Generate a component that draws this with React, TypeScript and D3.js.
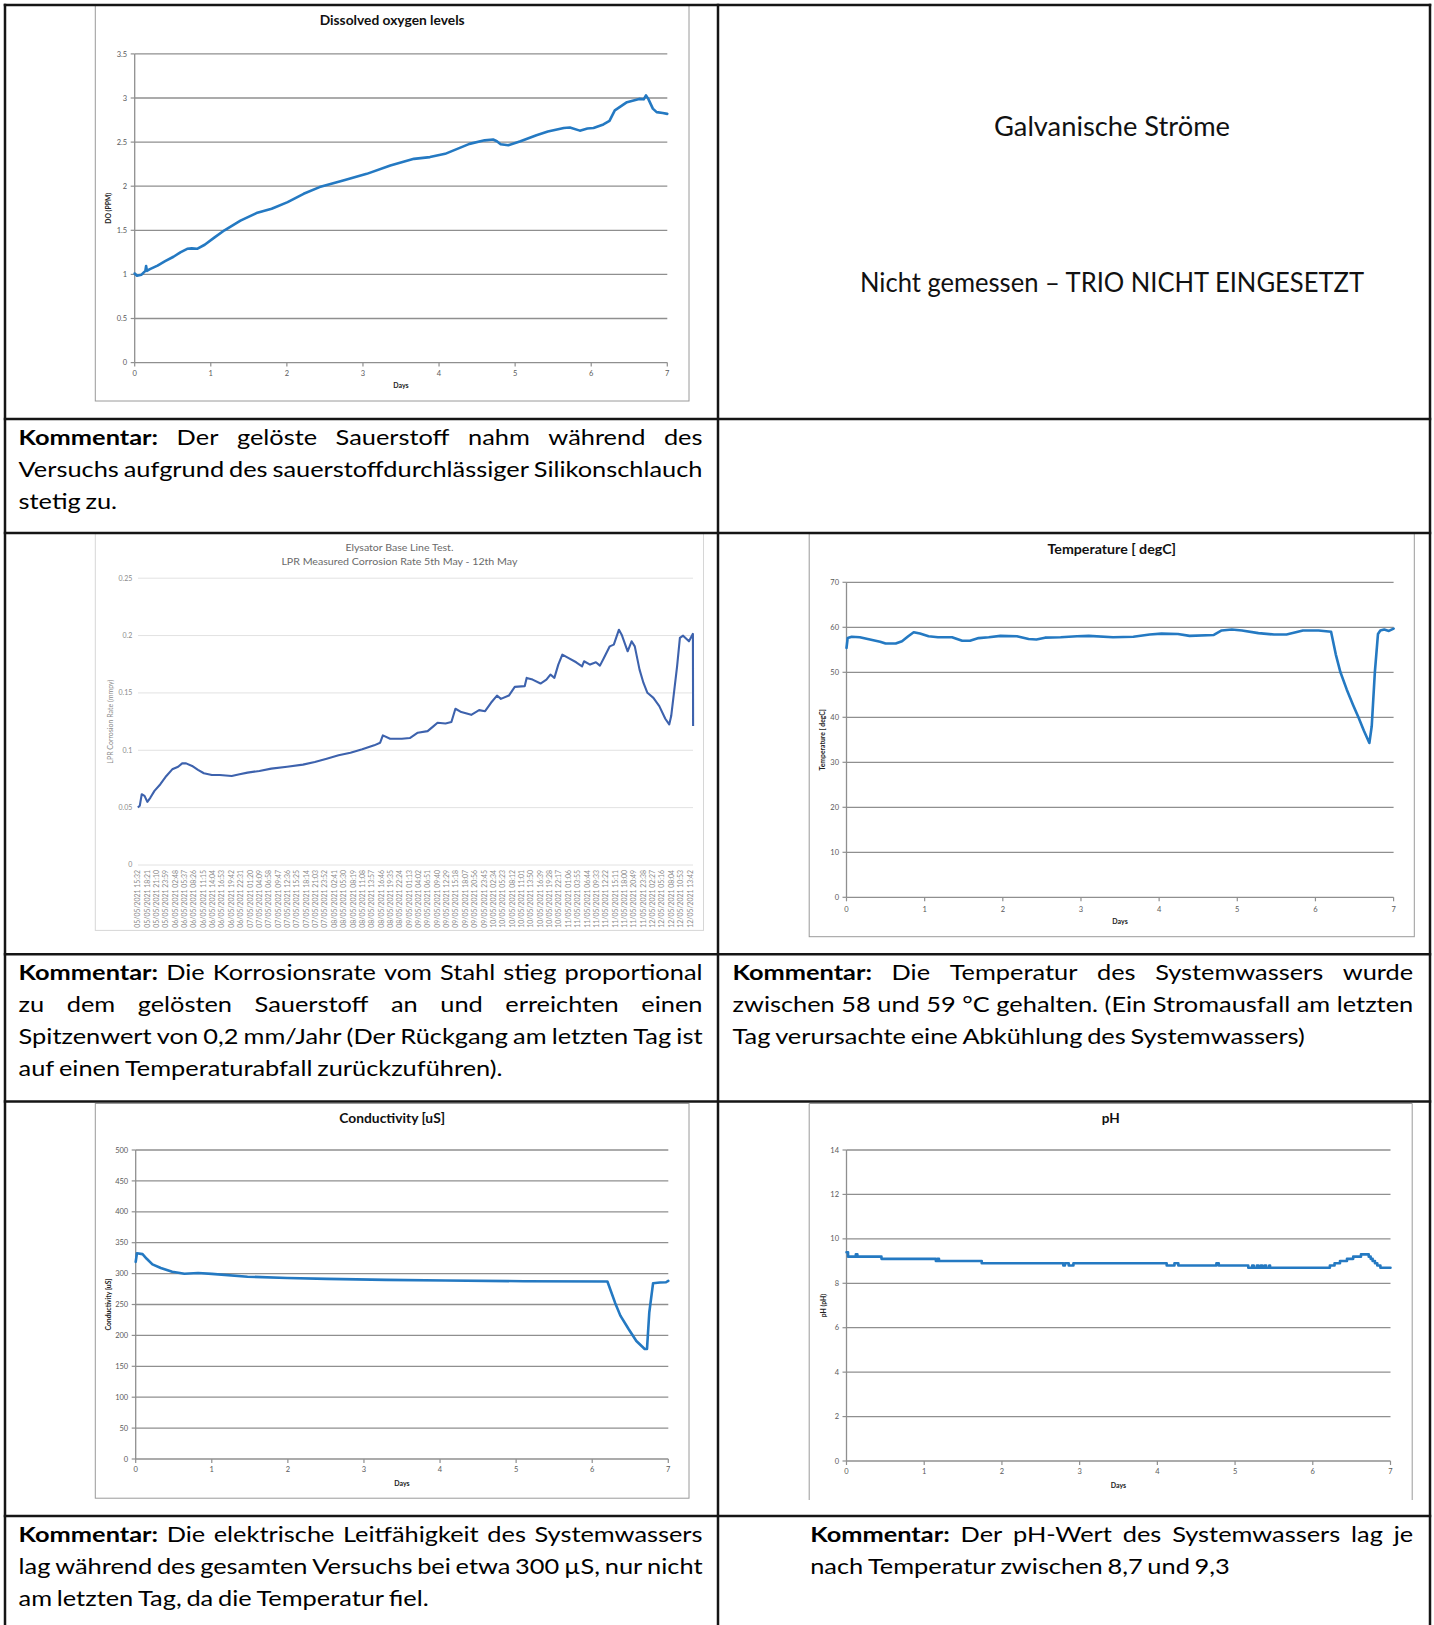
import React, { useEffect, useRef } from 'react';
import * as d3 from 'd3';

const PAGE_W = 1434;
const PAGE_H = 1625;
const FONT = 'Lato, "Open Sans", "DejaVu Sans", sans-serif';
const GRID = '#8f8f8f';
const FRAME = '#9a9a9a';
const TICK_TEXT = '#5a5a5a';
const SERIES_BLUE = '#2479c2';
const LPR_BLUE = '#3d62ad';

// ---------- shared axis ----------
const DAY_TICKS = [0, 1, 2, 3, 4, 5, 6, 7];

// ---------- dissolved oxygen (ppm) over days ----------
const DO_TICKS = [0, 0.5, 1, 1.5, 2, 2.5, 3, 3.5];
const DO_SERIES: [number, number][] = [
  [0, 1.01], [0.03, 0.985], [0.09, 0.997], [0.14, 1.04], [0.15, 1.095], [0.16, 1.04], [0.2, 1.06],
  [0.3, 1.1], [0.4, 1.15], [0.51, 1.2], [0.6, 1.25], [0.69, 1.29], [0.75, 1.295], [0.82, 1.29],
  [0.92, 1.336], [1.05, 1.42], [1.18, 1.5], [1.39, 1.61], [1.6, 1.695], [1.8, 1.744], [2.01, 1.82],
  [2.22, 1.914], [2.43, 1.99], [2.74, 2.065], [3.05, 2.14], [3.36, 2.235], [3.67, 2.31], [3.88, 2.33],
  [4.08, 2.367], [4.4, 2.48], [4.6, 2.52], [4.71, 2.53], [4.76, 2.51], [4.81, 2.476], [4.91, 2.465],
  [5.07, 2.51], [5.28, 2.578], [5.43, 2.62], [5.64, 2.66], [5.72, 2.665], [5.85, 2.63], [5.95, 2.655],
  [6.03, 2.66], [6.16, 2.7], [6.24, 2.74], [6.31, 2.86], [6.47, 2.953], [6.63, 2.99], [6.69, 2.985],
  [6.72, 3.03], [6.75, 2.99], [6.81, 2.88], [6.86, 2.84], [6.94, 2.83], [7.0, 2.82],
];

// ---------- temperature (degC) over days ----------
const TEMP_TICKS = [0, 10, 20, 30, 40, 50, 60, 70];
const TEMP_SERIES: [number, number][] = [
  [0, 55.4], [0.015, 57.6], [0.067, 57.9], [0.17, 57.8], [0.3, 57.3], [0.43, 56.8], [0.5, 56.4],
  [0.63, 56.4], [0.71, 56.9], [0.79, 58.0], [0.86, 58.9], [0.94, 58.6], [1.05, 58.0], [1.17, 57.8],
  [1.35, 57.8], [1.48, 57.0], [1.58, 57.0], [1.69, 57.6], [1.82, 57.8], [1.97, 58.1], [2.18, 58.0],
  [2.33, 57.4], [2.43, 57.3], [2.54, 57.7], [2.74, 57.8], [2.95, 58.0], [3.1, 58.1], [3.41, 57.8],
  [3.67, 57.9], [3.88, 58.4], [4.03, 58.6], [4.24, 58.5], [4.39, 58.1], [4.7, 58.3], [4.8, 59.3],
  [4.93, 59.5], [5.06, 59.3], [5.27, 58.7], [5.47, 58.4], [5.63, 58.4], [5.84, 59.3], [6.04, 59.3],
  [6.2, 59.0], [6.26, 54.0], [6.32, 50.0], [6.4, 46.2], [6.48, 42.8], [6.55, 40.0], [6.62, 37.0],
  [6.69, 34.3], [6.72, 38.0], [6.76, 50.0], [6.8, 58.5], [6.83, 59.3], [6.88, 59.5], [6.94, 59.2],
  [7.0, 59.7],
];

// ---------- conductivity (uS) over days ----------
const COND_TICKS = [0, 50, 100, 150, 200, 250, 300, 350, 400, 450, 500];
const COND_SERIES: [number, number][] = [
  [0, 319], [0.016, 333], [0.09, 331.5], [0.145, 324], [0.22, 315], [0.33, 309], [0.48, 303],
  [0.64, 299.7], [0.82, 301], [1.0, 299.6], [1.47, 295], [1.99, 293], [2.51, 291.4], [3.29, 289.8],
  [4.07, 288.8], [5.1, 287.7], [6.2, 287.2], [6.3, 253], [6.37, 232], [6.48, 210], [6.58, 191],
  [6.69, 178], [6.72, 178], [6.75, 237], [6.8, 284.5], [6.89, 285.6], [6.97, 286], [7.0, 288.3],
];

// ---------- pH over days (logged in 0.1 steps) ----------
const PH_TICKS = [0, 2, 4, 6, 8, 10, 12, 14];
const PH_SERIES: [number, number][] = [
  [0, 9.4], [0.02, 9.2], [0.12, 9.3], [0.14, 9.2], [0.45, 9.1], [1.15, 9.0], [1.17, 9.1], [1.19, 9.0],
  [1.74, 8.9], [2.79, 8.8], [2.81, 8.9], [2.86, 8.8], [2.92, 8.9], [4.12, 8.8], [4.22, 8.9],
  [4.27, 8.8], [4.76, 8.9], [4.79, 8.8], [5.17, 8.7], [5.22, 8.8], [5.24, 8.7], [5.28, 8.8],
  [5.3, 8.7], [5.33, 8.8], [5.35, 8.7], [5.38, 8.8], [5.4, 8.7], [5.44, 8.8], [5.45, 8.7],
  [6.22, 8.8], [6.28, 8.9], [6.35, 9.0], [6.44, 9.1], [6.52, 9.2], [6.62, 9.3], [6.72, 9.2],
  [6.745, 9.1], [6.77, 9.0], [6.8, 8.9], [6.83, 8.8], [6.87, 8.7], [7.0, 8.7],
];

// ---------- LPR corrosion rate (mmpy), x in sample-label units ----------
const LPR_TICKS = [0, 0.05, 0.1, 0.15, 0.2, 0.25];
const LPR_LABELS = [
  '05/05/2021 15:32', '05/05/2021 18:21', '05/05/2021 21:10', '05/05/2021 23:59',
  '06/05/2021 02:48', '06/05/2021 05:37', '06/05/2021 08:26', '06/05/2021 11:15',
  '06/05/2021 14:04', '06/05/2021 16:53', '06/05/2021 19:42', '06/05/2021 22:31',
  '07/05/2021 01:20', '07/05/2021 04:09', '07/05/2021 06:58', '07/05/2021 09:47',
  '07/05/2021 12:36', '07/05/2021 15:25', '07/05/2021 18:14', '07/05/2021 21:03',
  '07/05/2021 23:52', '08/05/2021 02:41', '08/05/2021 05:30', '08/05/2021 08:19',
  '08/05/2021 11:08', '08/05/2021 13:57', '08/05/2021 16:46', '08/05/2021 19:35',
  '08/05/2021 22:24', '09/05/2021 01:13', '09/05/2021 04:02', '09/05/2021 06:51',
  '09/05/2021 09:40', '09/05/2021 12:29', '09/05/2021 15:18', '09/05/2021 18:07',
  '09/05/2021 20:56', '09/05/2021 23:45', '10/05/2021 02:34', '10/05/2021 05:23',
  '10/05/2021 08:12', '10/05/2021 11:01', '10/05/2021 13:50', '10/05/2021 16:39',
  '10/05/2021 19:28', '10/05/2021 22:17', '11/05/2021 01:06', '11/05/2021 03:55',
  '11/05/2021 06:44', '11/05/2021 09:33', '11/05/2021 12:22', '11/05/2021 15:11',
  '11/05/2021 18:00', '11/05/2021 20:49', '11/05/2021 23:38', '12/05/2021 02:27',
  '12/05/2021 05:16', '12/05/2021 08:04', '12/05/2021 10:53', '12/05/2021 13:42',
];
const LPR_SERIES: [number, number][] = [
  [0, 0.0501], [0.21, 0.0516], [0.42, 0.0617], [0.72, 0.0603], [1.02, 0.055], [1.35, 0.0588],
  [1.78, 0.0646], [2.41, 0.0704], [3.05, 0.0776], [3.68, 0.0834], [4.31, 0.0857], [4.74, 0.0886],
  [5.16, 0.0886], [5.8, 0.0863], [6.43, 0.0829], [7.06, 0.08], [7.91, 0.0785], [8.76, 0.0785],
  [10.03, 0.0776], [10.87, 0.0791], [11.72, 0.0805], [12.99, 0.082], [14.26, 0.084], [15.95, 0.0857],
  [17.64, 0.0875], [18.91, 0.0898], [20.18, 0.0927], [21.45, 0.0956], [22.72, 0.0979], [23.98, 0.1008],
  [25.25, 0.1043], [25.89, 0.1066], [26.18, 0.113], [26.95, 0.1101], [28.21, 0.1101], [29.06, 0.1107],
  [29.91, 0.1153], [30.96, 0.1167], [31.6, 0.1211], [32.02, 0.124], [32.87, 0.1234], [33.5, 0.1246],
  [33.93, 0.1362], [34.56, 0.1333], [35.62, 0.1309], [36.46, 0.135], [37.1, 0.1341], [37.73, 0.1414],
  [38.37, 0.1477], [38.79, 0.1448], [39.64, 0.1477], [40.27, 0.1553], [41.33, 0.1559], [41.54, 0.1631],
  [42.17, 0.1616], [43.02, 0.1582], [43.65, 0.1616], [44.08, 0.166], [44.5, 0.1631], [44.92, 0.1747],
  [45.35, 0.1834], [45.98, 0.1805], [46.83, 0.1767], [47.46, 0.1732], [47.67, 0.1776], [48.31, 0.1747],
  [48.94, 0.1767], [49.37, 0.1738], [49.79, 0.1805], [50.42, 0.1906], [50.85, 0.1921], [51.4, 0.2051],
  [51.69, 0.2008], [52.33, 0.1863], [52.75, 0.195], [53.09, 0.1906], [53.6, 0.1703], [54.02, 0.1587],
  [54.44, 0.1501], [55.08, 0.1457], [55.71, 0.1385], [56.35, 0.1275], [56.77, 0.1225], [56.98, 0.1298],
  [57.32, 0.153], [57.61, 0.1732], [57.91, 0.1979], [58.25, 0.1999], [58.88, 0.195], [59.3, 0.2015],
  [59.32, 0.1211],
];

// ---------- table texts ----------
type Seg = { t: string; b?: boolean };
const COMMENT_DO: Seg[][] = [
  [{ t: 'Kommentar:', b: true }, { t: 'Der gelöste Sauerstoff nahm während des' }],
  [{ t: 'Versuchs aufgrund des sauerstoffdurchlässiger Silikonschlauch' }],
  [{ t: 'stetig zu.' }],
];
const COMMENT_LPR: Seg[][] = [
  [{ t: 'Kommentar:', b: true }, { t: 'Die Korrosionsrate vom Stahl stieg proportional' }],
  [{ t: 'zu dem gelösten Sauerstoff an und erreichten einen' }],
  [{ t: 'Spitzenwert von 0,2 mm/Jahr (Der Rückgang am letzten Tag ist' }],
  [{ t: 'auf einen Temperaturabfall zurückzuführen).' }],
];
const COMMENT_TEMP: Seg[][] = [
  [{ t: 'Kommentar:', b: true }, { t: 'Die Temperatur des Systemwassers wurde' }],
  [{ t: 'zwischen 58 und 59 °C gehalten. (Ein Stromausfall am letzten' }],
  [{ t: 'Tag verursachte eine Abkühlung des Systemwassers)' }],
];
const COMMENT_COND: Seg[][] = [
  [{ t: 'Kommentar:', b: true }, { t: 'Die elektrische Leitfähigkeit des Systemwassers' }],
  [{ t: 'lag während des gesamten Versuchs bei etwa 300 µS, nur nicht' }],
  [{ t: 'am letzten Tag, da die Temperatur fiel.' }],
];
const COMMENT_PH: Seg[][] = [
  [{ t: 'Kommentar:', b: true }, { t: 'Der pH-Wert des Systemwassers lag je' }],
  [{ t: 'nach Temperatur zwischen 8,7 und 9,3' }],
];
const GALVANIC_TITLE = 'Galvanische Ströme';
const GALVANIC_NOTE = 'Nicht gemessen – TRIO NICHT EINGESETZT';

// ---------- layout ----------
const COMMENT_SIZE = 21;
const LEAD = 32;
const COMMENT_BLOCKS = [
  { lines: COMMENT_DO, x0: 18.6, x1: 702.5, y0: 444.5 },
  { lines: COMMENT_LPR, x0: 18.6, x1: 702.5, y0: 980.3 },
  { lines: COMMENT_TEMP, x0: 732.5, x1: 1413.2, y0: 980.3 },
  { lines: COMMENT_COND, x0: 18.6, x1: 702.5, y0: 1542 },
  { lines: COMMENT_PH, x0: 810.2, x1: 1413.2, y0: 1542 },
];
const TABLE_ROWS = [5, 419, 533, 954.3, 1101.4, 1516];
const TABLE_COLS = [5, 718, 1430];

type Box = { left: number; right: number; top: number; bottom: number };

// Justified comment paragraphs, laid out word by word after measuring.
function CommentText() {
  const ref = useRef<SVGGElement>(null);
  useEffect(() => {
    const run = () => {
      if (!ref.current) return;
      const root = d3.select(ref.current);
      root.selectAll('*').remove();
      const space = COMMENT_SIZE * 0.226;
      const rows: any[] = [];
      COMMENT_BLOCKS.forEach(block => {
        block.lines.forEach((segs, i) => {
          const words = segs.flatMap(s =>
            s.t.split(/\s+/).filter(Boolean).map(w => ({ w, b: !!s.b })));
          const nodes = words.map(d =>
            root.append('text')
              .attr('y', block.y0 + i * LEAD)
              .attr('font-weight', d.b ? 700 : 400)
              .text(d.w));
          const widths = nodes.map(n => (n.node() as SVGTextElement).getComputedTextLength());
          rows.push({
            nodes, widths, sum: d3.sum(widths), x0: block.x0, x1: block.x1,
            justify: i < block.lines.length - 1,
          });
        });
      });
      // common squeeze so the densest justified line sets natural word gaps
      let k = Infinity;
      rows.forEach(r => {
        if (!r.justify) return;
        const gaps = r.nodes.length - 1;
        k = Math.min(k, (r.x1 - r.x0 - gaps * space) / r.sum);
      });
      if (!isFinite(k)) k = 1;
      rows.forEach(r => {
        const gaps = r.nodes.length - 1;
        let kk = k;
        let gap = space;
        if (r.justify && gaps > 0) gap = (r.x1 - r.x0 - kk * r.sum) / gaps;
        let x = r.x0;
        r.nodes.forEach((n: any, i: number) => {
          n.attr('x', x)
            .attr('textLength', r.widths[i] * kk)
            .attr('lengthAdjust', 'spacingAndGlyphs');
          x += r.widths[i] * kk + gap;
        });
      });
    };
    run();
    const fonts = (document as any).fonts;
    if (fonts && fonts.ready) fonts.ready.then(run);
  }, []);
  return <g ref={ref} fontFamily={FONT} fontSize={COMMENT_SIZE} fill="#000" />;
}

type DayChartProps = {
  frame: Box;
  openBottom?: boolean;
  title: string;
  titleBase: number;
  titleW: number;
  plot: Box;
  yMax: number;
  yTicks: number[];
  series: [number, number][];
  curve?: d3.CurveFactory;
  yLabel: string;
  yLabelX: number;
  xLabelBase: number;
  daysBase: number;
};

// Excel-style line chart with days on the x axis.
function DayChart(p: DayChartProps) {
  const x = d3.scaleLinear().domain([0, 7]).range([p.plot.left, p.plot.right]);
  const y = d3.scaleLinear().domain([0, p.yMax]).range([p.plot.bottom, p.plot.top]);
  const line = d3.line<[number, number]>()
    .x(d => x(d[0]))
    .y(d => y(d[1]))
    .curve(p.curve || d3.curveLinear);
  const fcx = (p.frame.left + p.frame.right) / 2;
  const pcx = (p.plot.left + p.plot.right) / 2;
  const pcy = (p.plot.top + p.plot.bottom) / 2;
  const f = p.frame;
  return (
    <g fontFamily={FONT}>
      <rect x={f.left} y={f.top} width={f.right - f.left} height={f.bottom - f.top}
        fill="#fff" stroke={p.openBottom ? 'none' : FRAME} strokeWidth={1} />
      {p.openBottom && (
        <path d={`M${f.left},${f.bottom}V${f.top}H${f.right}V${f.bottom}`}
          fill="none" stroke={FRAME} strokeWidth={1} />
      )}
      <text x={fcx} y={p.titleBase} textAnchor="middle" fontWeight={700} fontSize={12.5}
        fill="#111" textLength={p.titleW} lengthAdjust="spacingAndGlyphs">{p.title}</text>
      {p.yTicks.filter(v => v > 0).map(v => (
        <line key={'g' + v} x1={p.plot.left} x2={p.plot.right} y1={y(v)} y2={y(v)}
          stroke={GRID} strokeWidth={1.3} />
      ))}
      <line x1={p.plot.left} x2={p.plot.left} y1={p.plot.top} y2={p.plot.bottom}
        stroke={GRID} strokeWidth={1.3} />
      <line x1={p.plot.left} x2={p.plot.right} y1={p.plot.bottom} y2={p.plot.bottom}
        stroke={GRID} strokeWidth={1.3} />
      {p.yTicks.map(v => (
        <g key={'y' + v}>
          <line x1={p.plot.left - 4} x2={p.plot.left} y1={y(v)} y2={y(v)} stroke={GRID} strokeWidth={1.2} />
          <text x={p.plot.left - 7.5} y={y(v)} dy="0.35em" textAnchor="end" fontSize={7.5}
            fill={TICK_TEXT}>{String(v)}</text>
        </g>
      ))}
      {DAY_TICKS.map(d => (
        <g key={'x' + d}>
          <line x1={x(d)} x2={x(d)} y1={p.plot.bottom} y2={p.plot.bottom + 4} stroke={GRID} strokeWidth={1.2} />
          <text x={x(d)} y={p.xLabelBase} textAnchor="middle" fontSize={7.5} fill={TICK_TEXT}>{d}</text>
        </g>
      ))}
      <text x={pcx} y={p.daysBase} textAnchor="middle" fontSize={7} fontWeight={700} fill="#222">Days</text>
      <text transform={`translate(${p.yLabelX},${pcy}) rotate(-90)`} textAnchor="middle" dy="0.35em"
        fontSize={6.8} fontWeight={700} fill="#222">{p.yLabel}</text>
      <path d={line(p.series) || ''} fill="none" stroke={SERIES_BLUE} strokeWidth={2.6}
        strokeLinejoin="round" strokeLinecap="round" />
    </g>
  );
}

// Corrosion-rate chart with a category axis of sample timestamps.
function LprChart() {
  const frame: Box = { left: 95.3, right: 703.5, top: 533.6, bottom: 930.4 };
  const plot = { left: 138, right: 693, top: 578.2, bottom: 865 };
  const x = d3.scaleLinear().domain([0, LPR_LABELS.length - 1]).range([137.8, 690.1]);
  const y = d3.scaleLinear().domain([0, 0.25]).range([plot.bottom, plot.top]);
  const line = d3.line<[number, number]>().x(d => x(d[0])).y(d => y(d[1]));
  const cx = (frame.left + frame.right) / 2;
  const labelTop = 870;
  return (
    <g fontFamily={FONT}>
      <rect x={frame.left} y={frame.top} width={frame.right - frame.left} height={frame.bottom - frame.top}
        fill="#fff" stroke="#d6d6d6" strokeWidth={1} />
      <text x={cx} y={551} textAnchor="middle" fontSize={10} fill="#6a6a6a"
        textLength={108} lengthAdjust="spacingAndGlyphs">Elysator Base Line Test.</text>
      <text x={cx} y={564.5} textAnchor="middle" fontSize={10} fill="#6a6a6a"
        textLength={236} lengthAdjust="spacingAndGlyphs">LPR Measured Corrosion Rate 5th May - 12th May</text>
      {LPR_TICKS.map(v => (
        <g key={'l' + v}>
          <line x1={plot.left} x2={plot.right} y1={y(v)} y2={y(v)} stroke="#e2e2e2" strokeWidth={1} />
          <text x={132.3} y={y(v)} dy="0.35em" textAnchor="end" fontSize={7} fill="#8a8a8a">{String(v)}</text>
        </g>
      ))}
      <text transform={`translate(111,${(plot.top + plot.bottom) / 2}) rotate(-90)`} textAnchor="middle"
        dy="0.35em" fontSize={7} fill="#8a8a8a">LPR Corrosion Rate (mmpy)</text>
      {LPR_LABELS.map((lab, i) => (
        <text key={lab} transform={`translate(${x(i)},${labelTop}) rotate(-90)`} textAnchor="end"
          dy="0.35em" fontSize={6.9} fill="#8a8a8a">{lab}</text>
      ))}
      <path d={line(LPR_SERIES) || ''} fill="none" stroke={LPR_BLUE} strokeWidth={2.1}
        strokeLinejoin="round" />
    </g>
  );
}

export default function App() {
  return (
    <svg width={PAGE_W} height={PAGE_H} viewBox={`0 0 ${PAGE_W} ${PAGE_H}`}
      style={{ position: 'absolute', left: 0, top: 0, display: 'block', background: '#fff' }}>
      <rect width={PAGE_W} height={PAGE_H} fill="#fff" />

      <DayChart
        frame={{ left: 95.3, right: 689, top: 5, bottom: 401 }}
        title="Dissolved oxygen levels" titleBase={25} titleW={145}
        plot={{ left: 134.7, right: 667.3, top: 53.9, bottom: 362.6 }}
        yMax={3.5} yTicks={DO_TICKS} series={DO_SERIES}
        yLabel="DO (PPM)" yLabelX={109} xLabelBase={375.5} daysBase={388}
      />

      <text x={1112} y={135.5} textAnchor="middle" fontFamily={FONT} fontSize={26} fill="#111"
        textLength={236} lengthAdjust="spacingAndGlyphs">{GALVANIC_TITLE}</text>
      <text x={1112} y={292} textAnchor="middle" fontFamily={FONT} fontSize={26} fill="#111"
        textLength={504} lengthAdjust="spacingAndGlyphs">{GALVANIC_NOTE}</text>

      <LprChart />

      <DayChart
        frame={{ left: 809.2, right: 1414.3, top: 533.6, bottom: 936.7 }}
        title="Temperature [ degC]" titleBase={553.5} titleW={128.5}
        plot={{ left: 846.5, right: 1393.6, top: 582.3, bottom: 897.3 }}
        yMax={70} yTicks={TEMP_TICKS} series={TEMP_SERIES}
        yLabel="Temperature [ degC]" yLabelX={822.7} xLabelBase={911.5} daysBase={924}
      />

      <DayChart
        frame={{ left: 95.3, right: 689, top: 1103.5, bottom: 1498.2 }}
        title="Conductivity [uS]" titleBase={1122.5} titleW={105.7}
        plot={{ left: 135.7, right: 668.3, top: 1150, bottom: 1459 }}
        yMax={500} yTicks={COND_TICKS} series={COND_SERIES}
        yLabel="Conductivity [uS]" yLabelX={108.8} xLabelBase={1472} daysBase={1485.5}
      />

      <DayChart
        frame={{ left: 809.2, right: 1412.2, top: 1103.5, bottom: 1500 }} openBottom
        title="pH" titleBase={1122.5} titleW={18}
        plot={{ left: 846.5, right: 1390.5, top: 1150, bottom: 1461 }}
        yMax={14} yTicks={PH_TICKS} series={PH_SERIES} curve={d3.curveStepAfter}
        yLabel="pH (pH)" yLabelX={823.7} xLabelBase={1474} daysBase={1487.5}
      />

      <CommentText />

      {/* table grid */}
      <g stroke="#151515" strokeWidth={2.5}>
        {TABLE_ROWS.map(r => (
          <line key={'r' + r} x1={TABLE_COLS[0] - 1.25} x2={TABLE_COLS[2] + 1.25} y1={r} y2={r} />
        ))}
        {TABLE_COLS.map(c => (
          <line key={'c' + c} x1={c} x2={c} y1={TABLE_ROWS[0] - 1.25} y2={PAGE_H} />
        ))}
      </g>
    </svg>
  );
}
